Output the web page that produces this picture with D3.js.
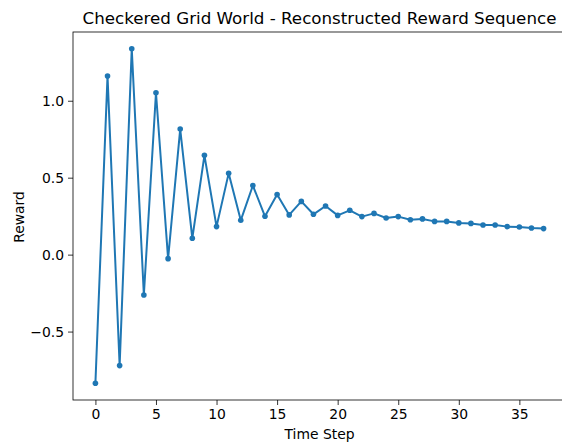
<!DOCTYPE html>
<html>
    <head>
        <meta charset="utf-8">
        <title>Checkered Grid World</title>
        <script src="https://d3js.org/d3.v7.min.js"></script>
        <style>
            body { margin: 0; background: #fff; }
            text { font-family: "DejaVu Sans", sans-serif; fill: #000; }
        </style>
    </head>
    <body>
        <svg width="562" height="442"></svg>

        <script type="text/javascript">
            // reward per time step
            const steps = d3.range(38);
            const rewards = [
                -0.836, 1.160, -0.721, 1.338, -0.262, 1.052, -0.026, 0.816,
                0.106, 0.645, 0.182, 0.528, 0.223, 0.449, 0.249, 0.390,
                0.258, 0.346, 0.262, 0.316, 0.255, 0.288, 0.247, 0.268,
                0.238, 0.247, 0.227, 0.232, 0.216, 0.216, 0.206, 0.203,
                0.193, 0.193, 0.182, 0.180, 0.173, 0.169
            ];
            const xTicks = [0, 5, 10, 15, 20, 25, 30, 35];
            const yTicks = [-0.5, 0.0, 0.5, 1.0];

            const svg = d3.select('svg');
            const mLeft = 73, mRight = 566, mTop = 32, mBottom = 400;
            const color = '#1f77b4';

            // matplotlib style 5% margins
            const xPad = (d3.max(steps) - d3.min(steps)) * 0.05;
            const yExt = d3.extent(rewards);
            const yPad = (yExt[1] - yExt[0]) * 0.05;

            const xScale = d3.scaleLinear()
                            .domain([d3.min(steps) - xPad, d3.max(steps) + xPad])
                            .range([mLeft, mRight]);
            const yScale = d3.scaleLinear()
                            .domain([yExt[0] - yPad, yExt[1] + yPad])
                            .range([mBottom, mTop]);

            const xAxis = svg.append('g')
                            .attr('transform', `translate(0,${mBottom})`)
                            .call(d3.axisBottom(xScale).tickValues(xTicks).tickSize(5).tickPadding(4).tickFormat(d3.format('d')));
            const yAxis = svg.append('g')
                            .attr('transform', `translate(${mLeft},0)`)
                            .call(d3.axisLeft(yScale).tickValues(yTicks).tickSize(5).tickPadding(4)
                                  .tickFormat(d => d3.format('.1f')(d).replace('-', '\u2212')));

            [xAxis, yAxis].forEach(a => {
                a.select('.domain').remove();
                a.selectAll('line').attr('stroke', '#000').attr('stroke-width', 0.8);
                a.selectAll('text').style('font-size', '13.9px').style('font-family', '"DejaVu Sans", sans-serif');
            });

            // frame
            svg.append('rect')
                .attr('x', mLeft).attr('y', mTop)
                .attr('width', mRight - mLeft).attr('height', mBottom - mTop)
                .attr('fill', 'none').attr('stroke', '#000').attr('stroke-width', 0.8);

            const line = d3.line()
                            .x((d, i) => xScale(steps[i]))
                            .y(d => yScale(d));

            svg.append('path')
                .datum(rewards)
                .attr('d', line)
                .attr('fill', 'none')
                .attr('stroke', color)
                .attr('stroke-width', 2)
                .attr('stroke-linejoin', 'round');

            svg.selectAll('circle')
                .data(rewards)
                .enter()
                .append('circle')
                .attr('cx', (d, i) => xScale(steps[i]))
                .attr('cy', d => yScale(d))
                .attr('r', 2.8)
                .attr('fill', color);

            svg.append('text')
                .attr('x', (mLeft + mRight) / 2)
                .attr('y', 24)
                .attr('text-anchor', 'middle')
                .style('font-size', '16.7px')
                .text('Checkered Grid World - Reconstructed Reward Sequence');

            svg.append('text')
                .attr('x', (mLeft + mRight) / 2)
                .attr('y', 439)
                .attr('text-anchor', 'middle')
                .style('font-size', '13.9px')
                .text('Time Step');

            svg.append('text')
                .attr('transform', `translate(23.5,217) rotate(-90)`)
                .attr('text-anchor', 'middle')
                .style('font-size', '13.9px')
                .text('Reward');
        </script>
    </body>
</html>
